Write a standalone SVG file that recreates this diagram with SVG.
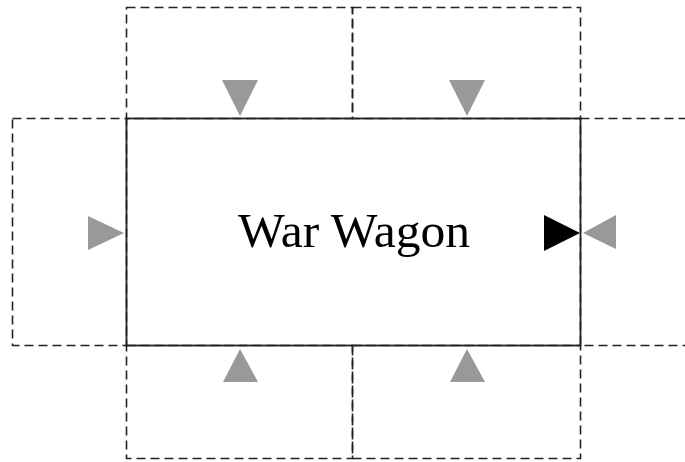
<svg xmlns="http://www.w3.org/2000/svg" width="685" height="462" viewBox="0 0 685 462">
<style>
.dash{fill:none;stroke:#222;stroke-width:1.6;stroke-dasharray:9,5}
.main{fill:none;stroke:#222;stroke-width:1.8}
.g{fill:#999}
.b{fill:#000}
.lbl{font-family:"Liberation Serif","Times New Roman",serif;font-size:48px;fill:#000;text-anchor:middle}
</style>
<rect width="685" height="462" fill="#fff"/>
<g id="slot-top-left"><rect class="dash" x="126.5" y="7.5" width="226" height="111"/></g>
<g id="slot-top-right"><rect class="dash" x="352.5" y="7.5" width="228" height="111"/></g>
<g id="slot-left"><rect class="dash" x="12.5" y="118.5" width="114" height="227"/></g>
<g id="slot-right"><rect class="dash" x="580.5" y="118.5" width="110" height="227"/></g>
<g id="slot-bottom-left"><rect class="dash" x="126.5" y="345.5" width="226" height="113"/></g>
<g id="slot-bottom-right"><rect class="dash" x="352.5" y="345.5" width="228" height="113"/></g>
<g id="war-wagon">
<rect class="main" x="126.5" y="118.5" width="454" height="227"/>
<text class="lbl" x="354" y="247" textLength="232" lengthAdjust="spacingAndGlyphs">War Wagon</text>
</g>
<g id="connectors">
<polygon class="g" points="222,80 258,80 240,116"/>
<polygon class="g" points="449,80 485,80 467,116"/>
<polygon class="g" points="88,216 88,250 124,233"/>
<polygon class="b" points="544,215 544,251 580,233"/>
<polygon class="g" points="616,215 616,249 583,233"/>
<polygon class="g" points="223,382 258,382 240,349"/>
<polygon class="g" points="450,382 485,382 467,349"/>
</g>
</svg>
